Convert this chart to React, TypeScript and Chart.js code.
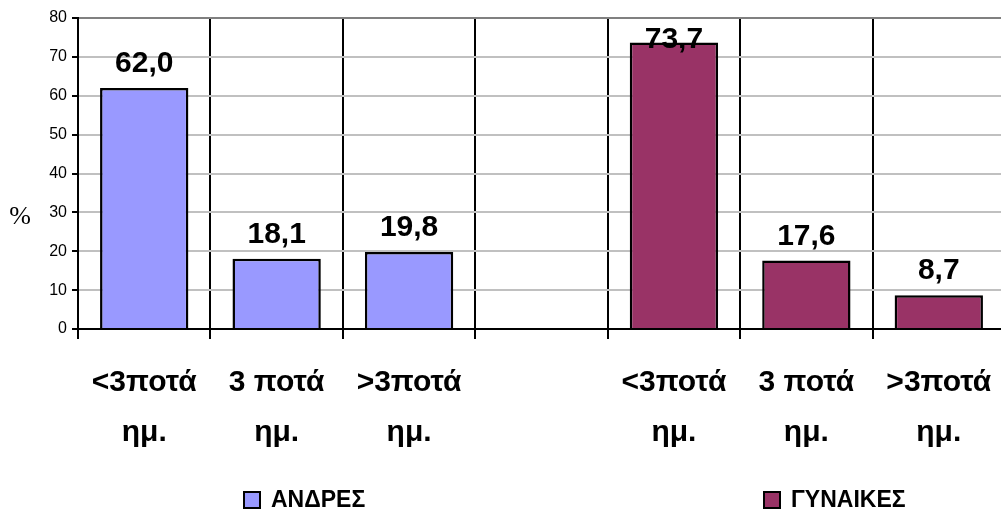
import React, { useEffect, useRef } from "react";
import { Chart, registerables } from "chart.js";

Chart.register(...registerables);

// ---- data ----
const categories: (string | string[])[] = [
  ["<3ποτά", "ημ."],
  ["3 ποτά", "ημ."],
  [">3ποτά", "ημ."],
  "",
  ["<3ποτά", "ημ."],
  ["3 ποτά", "ημ."],
  [">3ποτά", "ημ."],
];
const menValues = [62.0, 18.1, 19.8, null, null, null, null];
const womenValues = [null, null, null, null, 73.7, 17.6, 8.7];
const seriesNames = ["ΑΝΔΡΕΣ", "ΓΥΝΑΙΚΕΣ"];
const seriesColors = ["#9999FF", "#993366"];
const yMin = 0;
const yMax = 80;
const yStep = 10;
const yTitle = "%";

// ---- layout / style constants ----
const CANVAS_W = 1005;
const CANVAS_H = 516;
const PLOT_LEFT = 78;
const PLOT_TOP = 18;
const XAXIS_H = 187;
const LEGEND_X = [243, 763];
const LEGEND_Y = 500;
const SANS = "'Liberation Sans', Arial, sans-serif";

const fmt = (v: number) => v.toFixed(1).replace(".", ",");

const valueLabelPlugin = {
  id: "valueLabels",
  afterDatasetsDraw(chart: any) {
    const ctx = chart.ctx;
    ctx.save();
    ctx.font = `bold 30px ${SANS}`;
    ctx.fillStyle = "#000";
    ctx.textAlign = "center";
    ctx.textBaseline = "middle";
    chart.data.datasets.forEach((ds: any, di: number) => {
      const meta = chart.getDatasetMeta(di);
      meta.data.forEach((bar: any, i: number) => {
        const v = ds.data[i];
        if (v == null) return;
        let y = bar.y - 24;
        y = Math.max(y, chart.chartArea.top + 22);
        ctx.fillText(fmt(v), bar.x, y);
      });
    });
    ctx.restore();
  },
};

const extrasPlugin = {
  id: "extras",
  afterDraw(chart: any) {
    const ctx = chart.ctx;
    ctx.save();
    // y title
    ctx.font = "26px 'Liberation Serif', 'Times New Roman', serif";
    ctx.fillStyle = "#000";
    ctx.textAlign = "center";
    ctx.textBaseline = "middle";
    ctx.fillText(yTitle, 20, 217);
    // legend
    ctx.font = `bold 23px ${SANS}`;
    ctx.textAlign = "left";
    chart.data.datasets.forEach((ds: any, i: number) => {
      const x = LEGEND_X[i];
      ctx.fillStyle = ds.backgroundColor;
      ctx.fillRect(x + 1, LEGEND_Y - 8, 16, 16);
      ctx.strokeStyle = "#000";
      ctx.lineWidth = 2;
      ctx.strokeRect(x + 1, LEGEND_Y - 8, 16, 16);
      ctx.fillStyle = "#000";
      ctx.fillText(ds.label, x + 28, LEGEND_Y + 1);
    });
    ctx.restore();
  },
};

export default function App() {
  const ref = useRef<HTMLCanvasElement | null>(null);

  useEffect(() => {
    if (!ref.current) return;
    const chart = new Chart(ref.current, {
      type: "bar",
      data: {
        labels: categories,
        datasets: [
          {
            label: seriesNames[0],
            data: menValues,
            backgroundColor: seriesColors[0],
            borderColor: "#000",
            borderWidth: 2.5,
            grouped: false,
            barPercentage: 0.667,
            categoryPercentage: 1,
          } as any,
          {
            label: seriesNames[1],
            data: womenValues,
            backgroundColor: seriesColors[1],
            borderColor: "#000",
            borderWidth: 2.5,
            grouped: false,
            barPercentage: 0.667,
            categoryPercentage: 1,
          } as any,
        ],
      },
      options: {
        responsive: false,
        animation: false,
        layout: { padding: { top: PLOT_TOP, left: 0, right: 0, bottom: 0 } },
        plugins: {
          legend: { display: false },
          tooltip: { enabled: false },
        },
        scales: {
          x: {
            offset: true,
            grid: {
              offset: true,
              color: "#000",
              lineWidth: 2,
              tickLength: 10,
              tickColor: "#000",
              tickWidth: 2,
            },
            border: { color: "#000", width: 2 },
            ticks: {
              autoSkip: false,
              maxRotation: 0,
              minRotation: 0,
              padding: 19,
              color: "#000",
              font: { family: SANS, size: 30, weight: "bold", lineHeight: "50px" } as any,
            },
            afterFit(scale: any) {
              scale.height = XAXIS_H;
              scale.paddingLeft = 0;
              scale.paddingRight = 0;
            },
          },
          y: {
            min: yMin,
            max: yMax,
            ticks: {
              stepSize: yStep,
              padding: 5,
              color: "#000",
              font: { family: SANS, size: 16 },
            },
            grid: {
              color: (c: any) =>
                c.tick && c.tick.value === yMax ? "#808080" : c.tick && c.tick.value === yMin ? "#000" : "#C0C0C0",
              lineWidth: 2,
              tickLength: 6,
              tickColor: "#000",
              tickWidth: 2,
            },
            border: { color: "#000", width: 2 },
            afterFit(scale: any) {
              scale.width = PLOT_LEFT;
              scale.paddingTop = 0;
              scale.paddingBottom = 0;
            },
          },
        },
      },
      plugins: [valueLabelPlugin, extrasPlugin],
    });
    return () => chart.destroy();
  }, []);

  return (
    <div
      style={{
        position: "fixed",
        left: 0,
        top: 0,
        width: 1001,
        height: CANVAS_H,
        overflow: "hidden",
        background: "#fff",
      }}
    >
      <canvas ref={ref} width={CANVAS_W} height={CANVAS_H} style={{ display: "block" }} />
    </div>
  );
}
